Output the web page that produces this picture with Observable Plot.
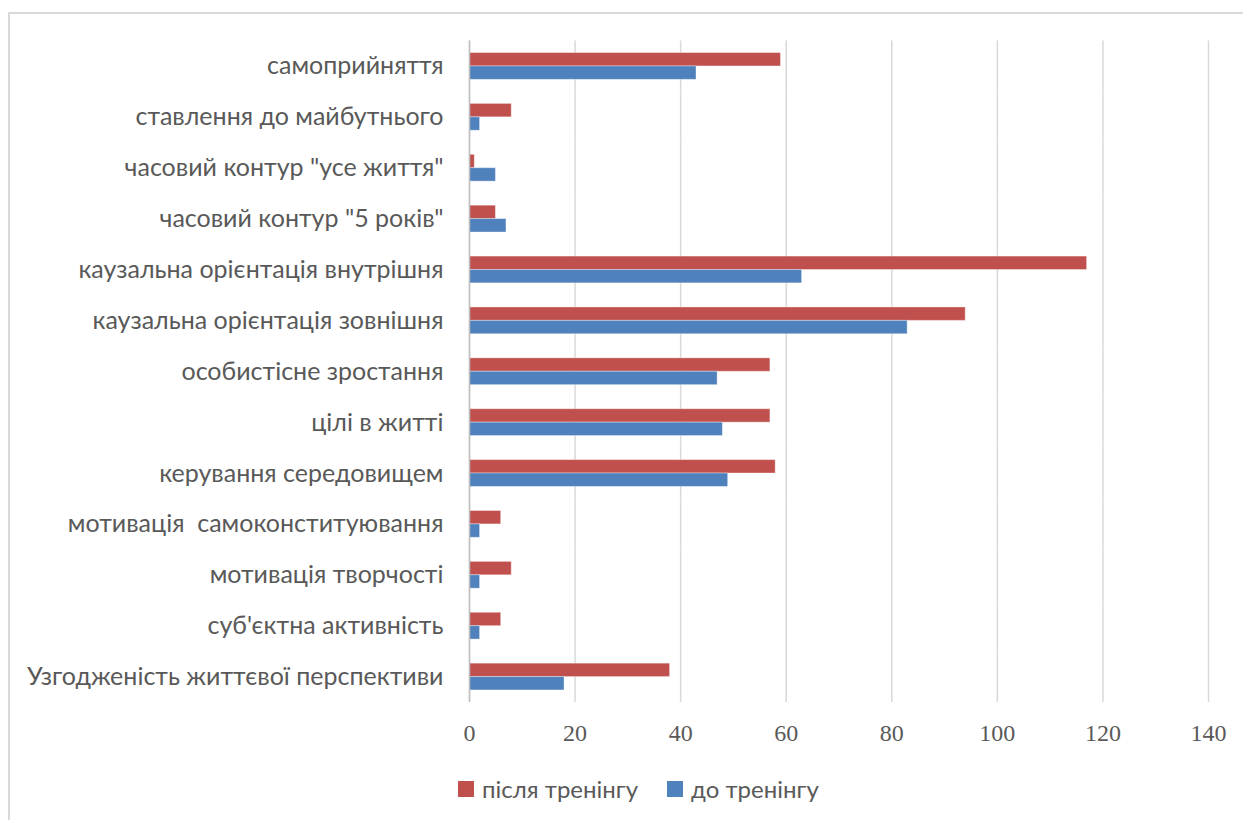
<!DOCTYPE html>
<html>
<head>
<meta charset="utf-8">
<script src="https://cdn.jsdelivr.net/npm/d3@7"></script>
<script src="https://cdn.jsdelivr.net/npm/@observablehq/plot@0.6"></script>
<style>
  body { margin: 0; background: #fff; width: 1243px; height: 820px; overflow: hidden; position: relative; }
  #frame { position: absolute; left: 8px; top: 12px; width: 1250px; height: 830px; border: 2px solid #d9d9d9; box-sizing: border-box; }
  #chart { position: absolute; left: 0; top: 0; }
  #legend { position: absolute; left: 458px; top: 774px; display: flex; align-items: center; font-family: Lato, sans-serif; font-size: 24px; color: #595959; }
  .sw { width: 16px; height: 16px; display: inline-block; margin-right: 8px; }
  .item { display: flex; align-items: center; margin-right: 29px; }
</style>
</head>
<body>
<div id="frame"></div>
<div id="chart"></div>
<div id="legend"></div>
<script>
const categories = [
  "самоприйняття",
  "ставлення до майбутнього",
  "часовий контур \"усе життя\"",
  "часовий контур \"5 років\"",
  "каузальна орієнтація внутрішня",
  "каузальна орієнтація зовнішня",
  "особистісне зростання",
  "цілі в житті",
  "керування середовищем",
  "мотивація  самоконституювання",
  "мотивація творчості",
  "суб'єктна активність",
  "Узгодженість життєвої перспективи"
];
const seriesNames = ["після тренінгу", "до тренінгу"];
const afterValues  = [59, 8, 1, 5, 117, 94, 57, 57, 58, 6, 8, 6, 38];
const beforeValues = [43, 2, 5, 7, 63, 83, 47, 48, 49, 2, 2, 2, 18];
const seriesColors = ["#C0504D", "#4F81BD"];
const xTicks = [0, 20, 40, 60, 80, 100, 120, 140];

const data = [];
categories.forEach((c, i) => {
  data.push({category: c, series: seriesNames[0], value: afterValues[i]});
  data.push({category: c, series: seriesNames[1], value: beforeValues[i]});
});

const chart = Plot.plot({
  width: 1243,
  height: 760,
  marginTop: 40.5,
  marginBottom: 58,
  marginLeft: 469,
  marginRight: 35,
  style: { fontFamily: "Lato, sans-serif", fontSize: "25px", color: "#595959", background: "transparent" },
  x: { domain: [0, 140], ticks: xTicks },
  fy: { domain: categories, padding: 0, round: false },
  y: { domain: seriesNames, paddingInner: 0, paddingOuter: 0.9, round: false },
  color: { domain: seriesNames, range: seriesColors },
  marks: [
    Plot.gridX(xTicks, { stroke: "#d9d9d9", strokeOpacity: 1, strokeWidth: 1.5 }),
    Plot.barX(data, { fy: "category", y: "series", x: "value", fill: "series", stroke: "#ffffff", strokeOpacity: 0.35, strokeWidth: 1 }),
    Plot.ruleX([0], { stroke: "#bfbfbf", strokeWidth: 1.5 }),
    Plot.axisY({ ticks: [], label: null, tickSize: 0 }),
    Plot.axisFy({ anchor: "left", label: null, tickSize: 0, tickPadding: 26, fontSize: 25, fill: "#595959" }),
    Plot.axisX(xTicks, { anchor: "bottom", label: null, tickSize: 0, tickPadding: 21, fontFamily: "Liberation Serif, serif", fontSize: 24, fill: "#595959" })
  ]
});
document.getElementById("chart").appendChild(chart);

const legend = document.getElementById("legend");
seriesNames.forEach((s, i) => {
  const item = document.createElement("span");
  item.className = "item";
  const sw = document.createElement("span");
  sw.className = "sw";
  sw.style.background = seriesColors[i];
  item.appendChild(sw);
  item.appendChild(document.createTextNode(s));
  legend.appendChild(item);
});
</script>
</body>
</html>
